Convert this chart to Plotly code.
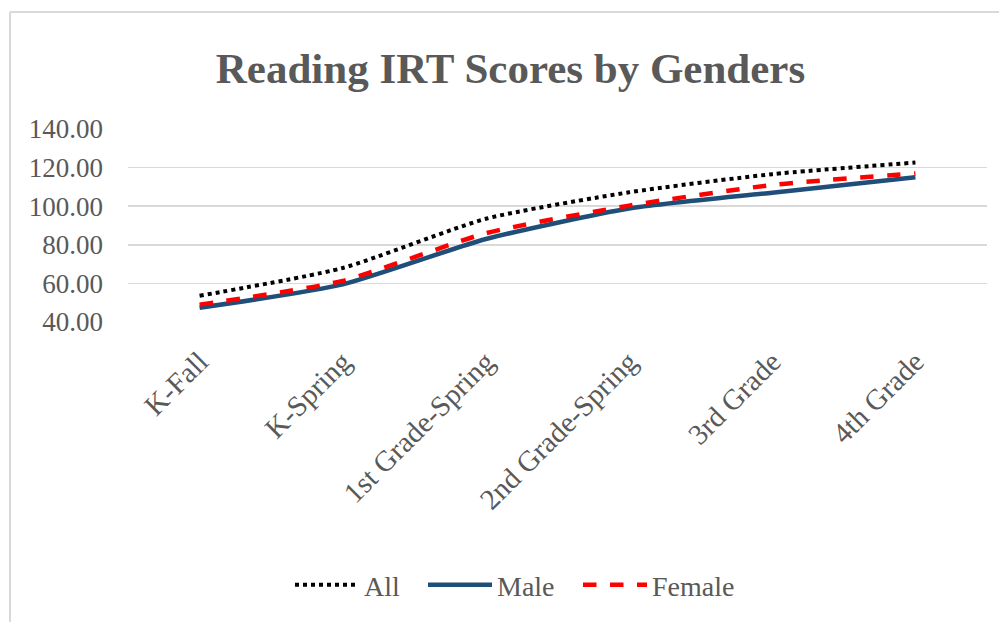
import plotly.graph_objects as go

categories = ["K-Fall", "K-Spring", "1st Grade-Spring", "2nd Grade-Spring", "3rd Grade", "4th Grade"]
all_scores = [53.6, 68.0, 93.5, 107.2, 116.6, 122.6]
male_scores = [47.4, 59.5, 83.0, 98.8, 107.0, 115.0]
female_scores = [49.0, 61.3, 86.0, 100.3, 111.0, 117.0]
y_ticks = [40, 60, 80, 100, 120, 140]

W, H = 999, 622
ML, MR, MT, MB = 128, 12, 129, 300
PW = W - ML - MR
PH = H - MT - MB

def px_x(p):
    return (p - ML) / PW

def px_y(p):
    return (H - MB - p) / PH

TXT = "#595959"
FONT = "Liberation Serif, Times New Roman, serif"

fig = go.Figure()
fig.add_trace(go.Scatter(x=categories, y=all_scores, name="All", mode="lines", legend="legend",
                         line=dict(color="#000000", width=4, dash="dot", shape="spline", smoothing=0.6)))
fig.add_trace(go.Scatter(x=categories, y=male_scores, name="Male", mode="lines", legend="legend2",
                         line=dict(color="#1F4E79", width=4.5, shape="spline", smoothing=0.6)))
fig.add_trace(go.Scatter(x=categories, y=female_scores, name="Female", mode="lines", legend="legend3",
                         line=dict(color="#FF0000", width=4.5, dash="dash", shape="spline", smoothing=0.6)))

def leg(xpx):
    return dict(orientation="h", x=px_x(xpx), y=px_y(585), xanchor="left", yanchor="middle",
                font=dict(family=FONT, size=28, color=TXT), itemwidth=64,
                bgcolor="rgba(0,0,0,0)")

fig.update_layout(
    width=W, height=H,
    margin=dict(l=ML, r=MR, t=MT, b=MB, autoexpand=False),
    paper_bgcolor="white", plot_bgcolor="white",
    font=dict(family=FONT, color=TXT, size=27),
    title=dict(text="<b>Reading IRT Scores by Genders</b>", x=0.511, xanchor="center",
               y=1 - 68 / H, yanchor="middle",
               font=dict(family=FONT, size=43, color=TXT)),
    showlegend=True,
    legend=leg(290),
    legend2=leg(423),
    legend3=leg(578),
    xaxis=dict(type="category", range=[-0.5, 5.5], showgrid=False, showline=False,
               ticks="", tickangle=-45, ticklabelstandoff=16,
               tickfont=dict(family=FONT, size=29, color=TXT), fixedrange=True),
    yaxis=dict(range=[40, 140], tickvals=y_ticks, tickformat=".2f", showgrid=True,
               gridcolor="#d9d9d9", gridwidth=1.5, zeroline=False, showline=False,
               ticks="", ticklabelstandoff=24,
               tickfont=dict(family=FONT, size=27, color=TXT), fixedrange=True),
    shapes=[
        dict(type="line", xref="paper", yref="paper", x0=px_x(10), x1=px_x(1005), y0=px_y(12), y1=px_y(12),
             line=dict(color="#d9d9d9", width=2)),
        dict(type="line", xref="paper", yref="paper", x0=px_x(10), x1=px_x(10), y0=px_y(12), y1=px_y(630),
             line=dict(color="#d9d9d9", width=2)),
    ],
)

fig.write_html("out.html", config={"displayModeBar": False, "staticPlot": True},
               post_script="document.body.style.margin='0';document.body.style.overflow='hidden';")
